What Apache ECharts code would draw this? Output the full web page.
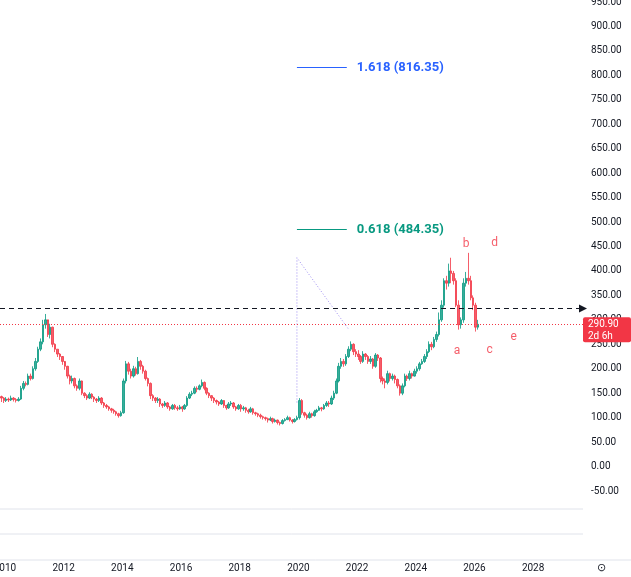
<!DOCTYPE html>
<html>
<head>
<meta charset="utf-8">
<script src="https://cdn.jsdelivr.net/npm/echarts@6/dist/echarts.min.js"></script>
<style>
    html, body {margin: 0; padding: 0; background: #fff;}
    #chart {width: 631px; height: 577px;}
</style>
</head>
<body>
<div id="chart"></div>
<script>
// 月线数据（从 2009-11 开始）
var startYear = 2009, startMonth = 10; // 0 基月份
var closes = [
    140, 135,
    138, 136, 140, 137, 135, 138, 160, 170, 168, 185, 180, 200,
    215, 240, 255, 290, 300, 270, 285, 250, 240, 230, 225, 215,
    205, 185, 175, 180, 165, 160, 175, 150, 145, 140, 148, 142,
    138, 135, 140, 130, 125, 122, 118, 115, 112, 108, 104, 110,
    175, 210, 195, 185, 200, 190, 215, 205, 195, 180, 170, 145,
    140, 135, 138, 128, 125, 130, 122, 118, 125, 120, 118, 122,
    118, 125, 140, 148, 150, 160, 158, 165, 172, 160, 150, 145,
    140, 135, 132, 128, 135, 125, 120, 128, 130, 122, 118, 125,
    118, 120, 115, 112, 118, 110, 108, 105, 102, 100, 98, 95,
    98, 92, 95, 90, 88, 94, 96, 100, 95, 92, 96, 100,
    135, 110, 105, 100, 108, 104, 112, 115, 120, 118, 125, 130,
    128, 140, 150, 175, 205, 215, 210, 225, 240, 250, 235, 230,
    225, 215, 230, 225, 215, 220, 205, 228, 222, 180, 175, 172,
    190, 180, 185, 178, 165, 150, 165, 185, 180, 190, 185, 195,
    200, 210, 215, 225, 235, 250, 245, 260, 270, 300, 330, 380,
    375, 400, 395, 380, 330, 290, 300, 375, 385, 380, 345, 330,
    285, 290.9
];
var highs = [
    145, 142,
    142, 141, 145, 142, 140, 142, 165, 175, 174, 190, 190, 205,
    222, 245, 262, 300, 312, 298, 292, 286, 252, 240, 232, 226,
    212, 206, 188, 186, 182, 168, 180, 176, 152, 148, 152, 150,
    144, 140, 144, 142, 132, 128, 124, 120, 118, 114, 110, 114,
    180, 216, 214, 200, 206, 204, 224, 218, 208, 198, 182, 172,
    148, 142, 142, 140, 130, 134, 132, 124, 128, 128, 124, 126,
    124, 128, 144, 152, 155, 164, 164, 168, 178, 174, 162, 152,
    146, 142, 137, 134, 138, 136, 126, 132, 134, 132, 124, 128,
    128, 124, 122, 118, 122, 120, 112, 110, 108, 104, 102, 100,
    102, 100, 98, 96, 92, 97, 99, 104, 102, 97, 99, 104,
    140, 138, 112, 108, 112, 110, 116, 118, 124, 122, 128, 134,
    134, 145, 155, 180, 212, 222, 220, 230, 246, 256, 252, 240,
    238, 228, 236, 232, 228, 226, 222, 232, 230, 224, 184, 180,
    196, 192, 190, 188, 180, 168, 170, 190, 188, 196, 192, 200,
    205, 214, 220, 230, 240, 256, 255, 265, 276, 315, 340, 385,
    390, 415, 427, 400, 385, 340, 305, 385, 398, 437, 390, 350,
    335, 300
];
var lows = [
    132, 130,
    132, 132, 134, 133, 131, 133, 136, 156, 164, 166, 176, 178,
    196, 212, 236, 250, 282, 265, 262, 244, 234, 224, 218, 208,
    198, 180, 168, 170, 160, 155, 156, 146, 140, 136, 138, 138,
    132, 130, 132, 126, 120, 118, 114, 110, 108, 104, 100, 102,
    108, 170, 188, 180, 182, 186, 188, 198, 190, 176, 164, 138,
    134, 130, 130, 122, 120, 122, 118, 114, 116, 116, 114, 116,
    112, 116, 122, 138, 144, 148, 152, 156, 162, 156, 146, 140,
    134, 130, 127, 124, 126, 120, 116, 118, 124, 118, 114, 116,
    112, 114, 110, 108, 110, 106, 104, 101, 98, 96, 94, 90,
    93, 88, 90, 86, 84, 86, 92, 95, 92, 88, 90, 94,
    96, 106, 100, 96, 98, 100, 102, 110, 114, 113, 116, 122,
    122, 126, 136, 148, 172, 200, 204, 206, 222, 236, 228, 224,
    218, 210, 212, 218, 210, 210, 200, 202, 216, 172, 168, 160,
    168, 174, 176, 170, 160, 145, 146, 162, 175, 176, 180, 184,
    190, 196, 208, 212, 220, 232, 238, 242, 255, 266, 296, 325,
    362, 368, 375, 372, 326, 280, 282, 294, 368, 372, 340, 320,
    276, 280
];
var yearLabels = [2010, 2012, 2014, 2016, 2018, 2020, 2022, 2024, 2026, 2028];
var waveNames = ['a', 'b', 'c', 'd', 'e'];
var wavePoints = [[2025.41, 237], [2025.72, 456], [2026.52, 239], [2026.69, 458], [2027.34, 264]];
var fibLevels = [{name: '1.618', value: 816.35, color: '#2962ff'}, {name: '0.618', value: 484.35, color: '#089981'}];
var fibFrom = 2019.95, fibTo = 2021.65;
var trendPath = [[2019.95, 131], [2019.95, 427], [2021.72, 280]];
var dashedLevel = 323;
var lastPrice = 290.9;

var candles = [];
for (var i = 0; i < closes.length; i++) {
    var m = startMonth + i;
    var t = startYear + Math.floor(m / 12) + (m % 12 + 0.5) / 12;
    var open = i === 0 ? closes[0] + 3 : closes[i - 1];
    candles.push([t, open, closes[i], lows[i], highs[i]]);
}

var myChart = echarts.init(document.getElementById('chart'));
var font = 'Roboto, "Noto Sans", sans-serif';

var option = {
    animation: false,
    grid: {left: 0, right: 48, top: 2, bottom: 86, outerBoundsMode: 'none', containLabel: false},
    xAxis: {
        type: 'value',
        min: 2009.83,
        max: 2029.7,
        axisLine: {show: false},
        axisTick: {show: false},
        splitLine: {show: false},
        axisLabel: {
            customValues: yearLabels,
            margin: 72,
            color: '#131722',
            fontSize: 10,
            fontFamily: font,
            formatter: function (v) { return String(v); }
        }
    },
    yAxis: {
        type: 'value',
        position: 'right',
        min: -50,
        max: 950,
        interval: 50,
        axisLine: {show: false},
        axisTick: {show: false},
        splitLine: {show: false},
        axisLabel: {
            color: '#131722',
            fontSize: 10,
            fontFamily: font,
            margin: 8,
            formatter: function (v) { return v.toFixed(2); }
        }
    },
    series: [
        {
            type: 'candlestick',
            barWidth: 2,
            data: candles,
            encode: {x: 0, y: [1, 2, 3, 4]},
            itemStyle: {
                color: '#089981', color0: '#f23645',
                borderColor: '#089981', borderColor0: '#f23645',
                borderWidth: 1, opacity: 0.8
            },
            markLine: {
                silent: true,
                symbol: ['none', 'none'],
                label: {show: false},
                data: [
                    [{coord: [2009.83, dashedLevel], lineStyle: {color: '#131722', type: [5, 4], width: 1}},
                     {coord: [2029.7, dashedLevel], symbol: 'triangle', symbolSize: 8, symbolRotate: -90}],
                    [{coord: [2009.83, lastPrice], lineStyle: {color: '#f23645', type: [1, 2], width: 1}},
                     {coord: [2029.7, lastPrice]}]
                ]
            }
        },
        {
            type: 'line',
            data: trendPath,
            symbol: 'none',
            lineStyle: {color: '#9c8cf0', type: [1, 2], width: 1}
        },
        {
            type: 'line',
            data: [],
            markLine: {
                silent: true,
                symbol: ['none', 'none'],
                data: fibLevels.map(function (f) {
                    return [
                        {coord: [fibFrom, f.value], lineStyle: {color: f.color, type: 'solid', width: 1}},
                        {coord: [fibTo, f.value], label: {
                            show: true, position: 'end', distance: 10,
                            formatter: f.name + ' (' + f.value.toFixed(2) + ')',
                            color: f.color, fontSize: 13, fontWeight: 'bold', fontFamily: font
                        }}
                    ];
                })
            }
        },
        {
            type: 'scatter',
            symbolSize: 0,
            data: wavePoints.map(function (p, k) { return {value: p, name: waveNames[k]}; }),
            label: {
                show: true, position: 'inside', formatter: '{b}',
                color: '#f23645', fontSize: 12, fontFamily: font
            }
        }
    ],
    graphic: [
        {type: 'line', shape: {x1: 0, y1: 509, x2: 583, y2: 509}, style: {stroke: '#e0e3eb', lineWidth: 1}},
        {type: 'line', shape: {x1: 0, y1: 534, x2: 583, y2: 534}, style: {stroke: '#e0e3eb', lineWidth: 1}},
        {type: 'line', shape: {x1: 0, y1: 560, x2: 631, y2: 560}, style: {stroke: '#e0e3eb', lineWidth: 1}},
        {type: 'text', left: 597, top: 562, style: {text: '⊙', fontSize: 11, fill: '#131722'}}
    ]
};

myChart.setOption(option);

// 右侧价格标签
var py = myChart.convertToPixel({gridIndex: 0}, [2020, lastPrice])[1];
myChart.setOption({
    graphic: option.graphic.concat([
        {type: 'rect', shape: {x: 583, y: py - 7, width: 48, height: 25, r: 2}, style: {fill: '#f23645'}, z: 100},
        {type: 'text', x: 588, y: py - 6, z: 101, style: {text: lastPrice.toFixed(2) + '\n2d 6h', fill: '#fff', fontSize: 10, lineHeight: 12, fontFamily: font}}
    ])
});
</script>
</body>
</html>
